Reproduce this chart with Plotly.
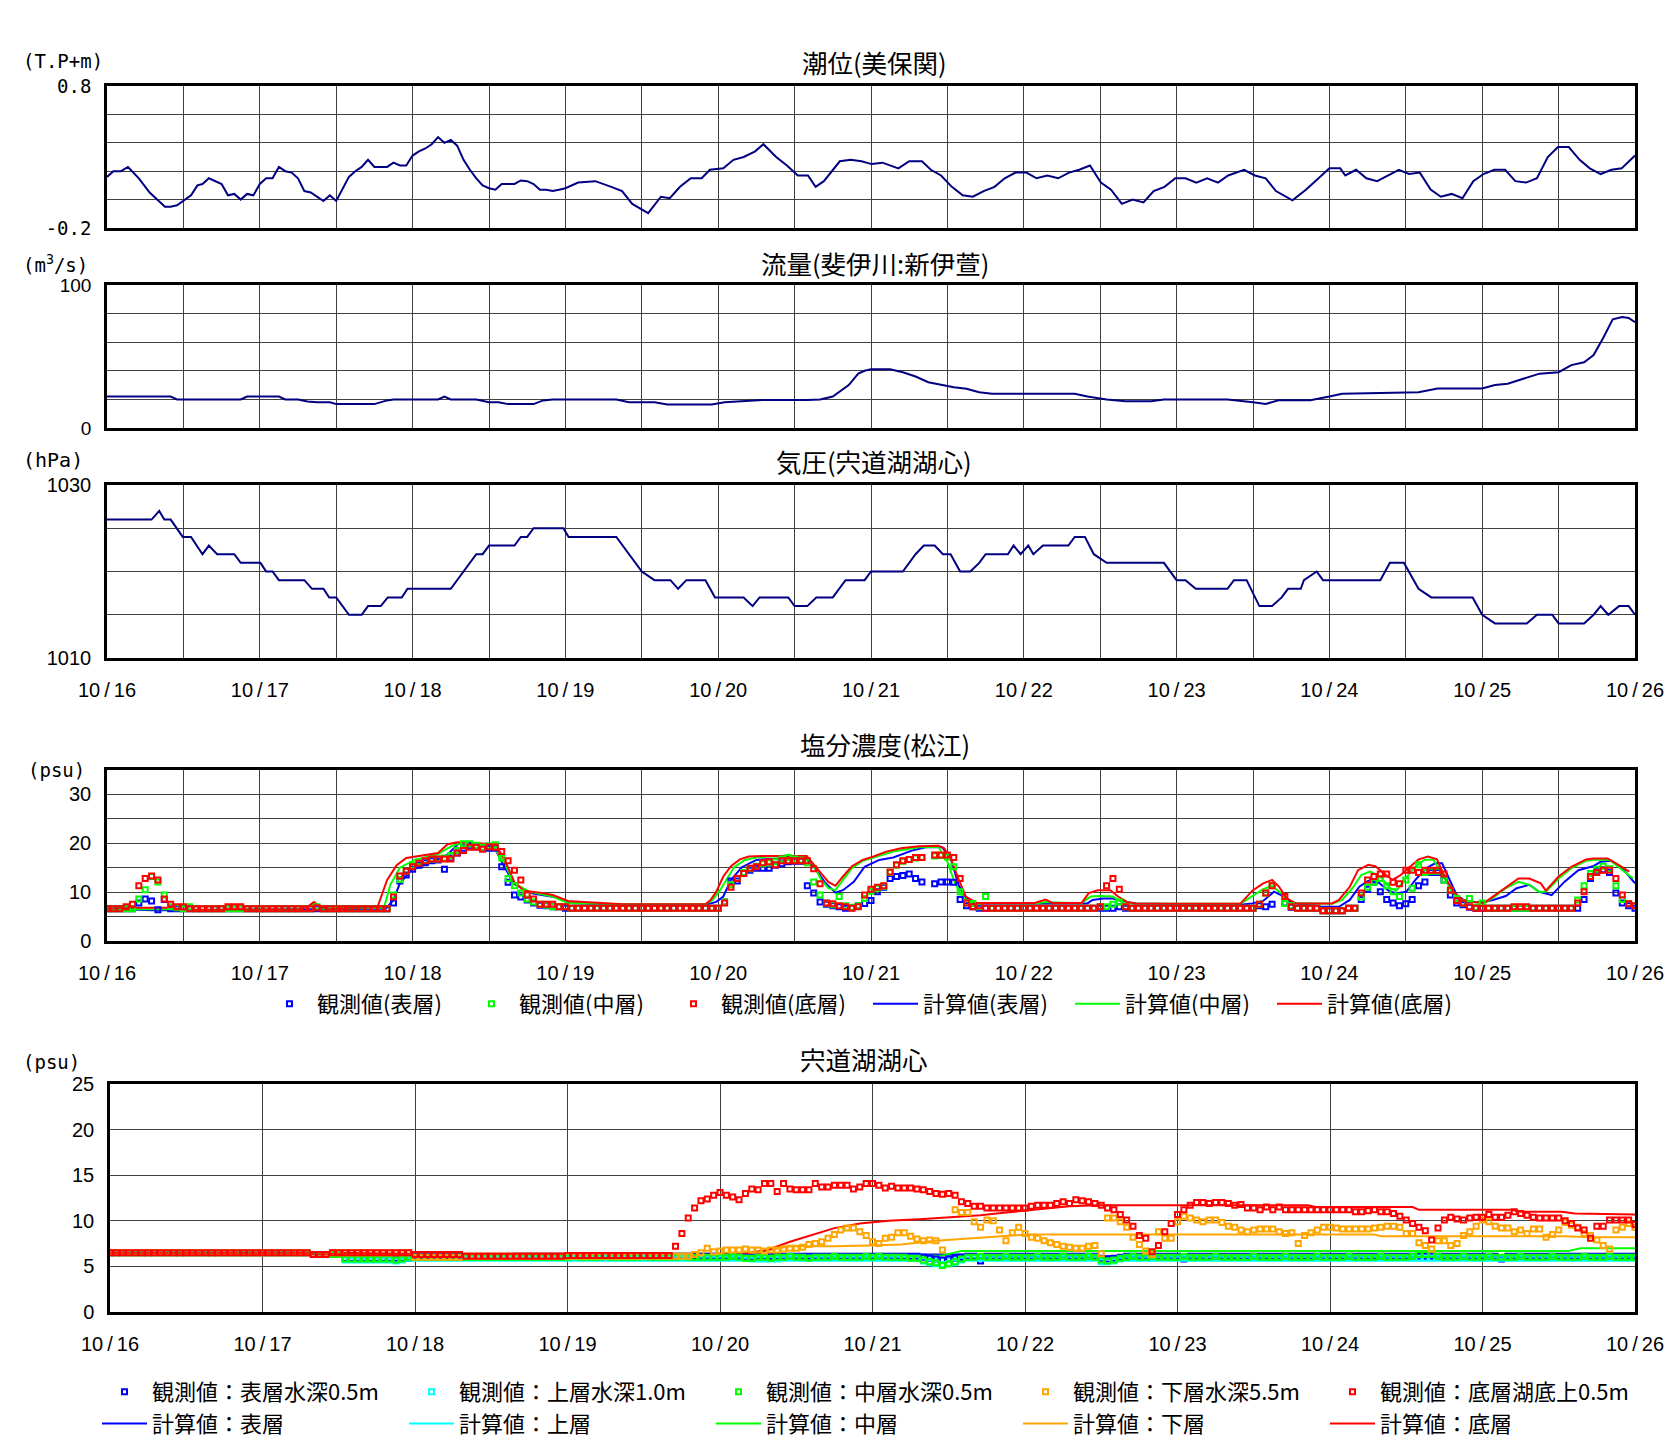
import plotly.graph_objects as go
import pandas as pd

W, H = 1668, 1439
START = pd.Timestamp("2010-10-16 00:00")

JP = "Noto Sans CJK JP"
MONO = "DejaVu Sans Mono"
SANS = "Liberation Sans"
NAVY = "#000080"
GRID = "#404040"
BLUE, GREEN, RED = "#0000FF", "#00FF00", "#FF0000"
CYAN, ORANGE = "#00FFFF", "#FFA500"

DAY_LABELS = ["10/16", "10/17", "10/18", "10/19", "10/20", "10/21",
              "10/22", "10/23", "10/24", "10/25", "10/26"]

# ── 潮位(美保関)  hours from 10/16 00:00 / T.P+m ─────────────────────────────
TIDE_H = [0, 1, 2.2, 3.3, 5, 6.7, 9.1, 10, 11, 13.2, 14.2, 15, 16, 18, 19, 20, 21, 22, 23,
          24, 25, 26, 27, 28, 29, 30, 31, 32, 34, 35, 36, 38, 39, 40, 41, 42, 44, 45, 46, 47,
          48, 49, 50, 51, 52, 53, 54, 55, 56, 57, 58, 59, 60, 61, 62, 64, 65, 66, 67, 68, 69, 70, 71,
          72, 74, 76.7, 79.2, 80.9, 82.5, 85, 87, 88.4, 90, 91.7, 93.4, 94.7,
          96.8, 98.4, 100, 101.8, 103.1, 105.1, 106.8, 108.5, 110.1, 111.3, 112.6, 115.1, 116.8, 118.5,
          120.1, 121.8, 124.3, 126, 128, 129.4, 131, 132.7, 134.4, 136, 137.7, 139.4, 141, 142.7,
          144.4, 146, 147.7, 149.4, 151.1, 152.7, 154.4, 156.1, 157.7, 159.4, 161.1, 162.8, 164.4, 166.1, 167.8,
          169.4, 171.1, 172.8, 174.5, 176.1, 178.6, 180.3, 182, 183.6, 186.2, 188.3, 190.3,
          192, 193.7, 194.5, 196.2, 197.8, 199.5, 201.2, 202.9, 204.5, 206.2, 207.9, 209.5, 211.2, 212.9, 214.6,
          216.2, 217.9, 219.6, 221.2, 222.9, 224.6, 226.3, 227.9, 229.6, 231.3, 232.9, 234.6, 236.3, 237.9, 240]
TIDE_V = [0.16, 0.20, 0.20, 0.23, 0.15, 0.05, -0.05, -0.05, -0.04, 0.03, 0.10, 0.11, 0.15, 0.11, 0.03, 0.04, 0.00, 0.04, 0.03,
          0.11, 0.15, 0.15, 0.23, 0.20, 0.19, 0.15, 0.06, 0.05, -0.01, 0.03, -0.01, 0.16, 0.20, 0.23, 0.28, 0.23, 0.23, 0.26, 0.24, 0.24,
          0.31, 0.34, 0.36, 0.39, 0.44, 0.40, 0.42, 0.38, 0.28, 0.21, 0.15, 0.10, 0.08, 0.07, 0.11, 0.11, 0.135, 0.13, 0.11, 0.07, 0.07, 0.06, 0.07,
          0.08, 0.12, 0.13, 0.09, 0.06, -0.03, -0.095, 0.02, 0.01, 0.09, 0.15, 0.15, 0.21,
          0.22, 0.28, 0.30, 0.34, 0.39, 0.30, 0.24, 0.17, 0.17, 0.09, 0.13, 0.27, 0.28, 0.27,
          0.25, 0.26, 0.22, 0.27, 0.27, 0.21, 0.17, 0.09, 0.03, 0.02, 0.06, 0.09, 0.15, 0.19,
          0.19, 0.15, 0.17, 0.15, 0.19, 0.21, 0.24, 0.12, 0.07, -0.03, 0.00, -0.02, 0.06, 0.09, 0.15,
          0.15, 0.12, 0.15, 0.12, 0.17, 0.21, 0.17, 0.15, 0.06, -0.005, 0.07, 0.15,
          0.22, 0.22, 0.17, 0.21, 0.15, 0.13, 0.17, 0.21, 0.18, 0.19, 0.07, 0.02, 0.04, 0.01, 0.13,
          0.18, 0.21, 0.21, 0.13, 0.12, 0.15, 0.30, 0.37, 0.37, 0.28, 0.22, 0.18, 0.21, 0.22, 0.31]

# ── 流量(斐伊川:新伊萱)  m3/s ──────────────────────────────────────────────────
FLOW_H = [0, 10, 11, 21, 22, 27, 28, 30, 31.5, 33, 35, 36, 42, 44, 45, 52, 53, 54, 58, 60,
          61.5, 63, 67, 68.5, 70, 80, 82, 86, 88, 95, 97, 100, 103, 110, 112, 114, 115, 116.5, 118, 119,
          120, 123, 125, 127, 129, 131, 133, 135, 137, 139, 152, 154, 157, 160, 164, 166, 176, 180, 182, 184,
          189, 192, 194, 206, 209, 216, 218, 220, 223, 225, 228, 230, 232, 233.5, 235, 236.5, 238, 239, 240]
FLOW_V = [22, 22, 20, 20, 22, 22, 20, 20, 18.6, 18, 18, 16.7, 16.7, 19.3, 20, 20, 22, 20, 20, 18,
          18, 16.7, 16.7, 19.3, 20, 20, 18, 18, 16.5, 16.5, 18, 18.5, 19.5, 19.5, 20, 22, 25, 30, 38, 40,
          41, 41, 39, 36, 32, 30, 28.5, 27.5, 25, 24, 24, 22, 20, 18.7, 18.7, 20, 20, 18, 16.8, 19.4,
          19.4, 22, 24, 25, 27.6, 27.6, 30, 31, 35, 38, 39, 44, 46, 51, 63, 76, 77.6, 77, 74]

# ── 気圧(宍道湖湖心)  hPa ─────────────────────────────────────────────────────
PRES_H = [0, 7, 8.2, 9, 10, 11, 11.9, 13.2, 15, 16, 17.3, 20, 21, 24.1, 25, 26, 27, 31, 32.2, 34,
          34.9, 36, 38, 40, 41, 43, 44.1, 46.3, 47.2, 54, 55, 56, 58, 59, 60, 64, 65, 66, 67, 71.7,
          72.5, 80, 81, 82.5, 84, 86, 88.5, 89.7, 91, 94, 95.5, 100, 101.4, 102.5, 107, 108, 110, 111.4, 114, 116,
          119, 120, 125, 127, 128.3, 130, 131.3, 132.5, 134, 135.6, 137, 138, 141.5, 142.4, 143.5, 144.7, 145.5, 147, 151, 152,
          153.6, 155, 157, 166, 168, 169.4, 171, 176, 177, 179, 181, 183, 184.5, 185.5, 187.5, 188, 190, 191, 200, 201.5,
          203.7, 206, 208, 214.5, 216, 218, 223, 224.6, 227, 228, 232, 233.5, 234.6, 235.8, 237.5, 239, 240]
PRES_V = [1026, 1026, 1027, 1026, 1026, 1025, 1024, 1024, 1022, 1023, 1022, 1022, 1021, 1021, 1020, 1020, 1019, 1019, 1018, 1018,
          1017, 1017, 1015, 1015, 1016, 1016, 1017, 1017, 1018, 1018, 1019, 1020, 1022, 1022, 1023, 1023, 1024, 1024, 1025, 1025,
          1024, 1024, 1023, 1021.5, 1020, 1019, 1019, 1018, 1019, 1019, 1017, 1017, 1016, 1017, 1017, 1016, 1016, 1017, 1017, 1019,
          1019, 1020, 1020, 1022, 1023, 1023, 1022, 1022, 1020, 1020, 1021, 1022, 1022, 1023, 1022, 1023, 1022, 1023, 1023, 1024,
          1024, 1022, 1021, 1021, 1019, 1019, 1018, 1018, 1019, 1019, 1016, 1016, 1017, 1018, 1018, 1019, 1020, 1019, 1019, 1021,
          1021, 1018, 1017, 1017, 1015, 1014, 1014, 1015, 1015, 1014, 1014, 1015, 1016, 1015, 1016, 1016, 1015]

# ── 塩分濃度(松江)  observed, hourly from 10/16 00:00 (psu) ────────────────────
M_OBS_SURF = [
    6.6, 6.6, 6.6, 6.6, 6.6, 7.8, 8.6, 8.2, 6.4, 8.5, 6.6, 6.6, 6.6, 6.6, 6.6, 6.6, 6.6, 6.6, 6.6, 6.6, 6.6, 6.6, 6.6, 6.6,
    6.6, 6.6, 6.6, 6.6, 6.6, 6.6, 6.6, 6.6, 6.6, 6.6, 6.6, 6.6, 6.6, 6.6, 6.6, 6.6, 6.6, 6.6, 6.6, 6.6, 6.6, 7.8, 12.3, 13.5,
    14.7, 15.5, 16.0, 16.4, 16.6, 14.7, 17.0, 18.0, 19.0, 19.5, 19.3, 19.0, 19.0, 19.0, 15.2, 12.0, 9.4, 9.0, 8.4, 7.8, 7.3, 7.2, 7.0, 7.0,
    6.7, 6.7, 6.7, 6.7, 6.7, 6.7, 6.7, 6.7, 6.7, 6.7, 6.7, 6.7, 6.7, 6.7, 6.7, 6.7, 6.7, 6.7, 6.7, 6.7, 6.7, 6.7, 6.7, 6.7,
    6.7, 8.0, 12.3, 12.3, 13.8, 14.5, 14.9, 14.9, 14.9, 15.5, 15.8, 16.2, 16.3, 16.3, 11.3, 9.8, 8.0, 7.5, 7.2, 7.0, 6.7, 6.8, 7.2, 7.7,
    8.3, 10.1, 11.0, 12.8, 13.2, 13.4, 13.7, 12.8, 12.1, None, 11.7, 12.1, 12.1, 12.0, 8.5, 7.2, 7.0, 6.7, 6.7, 6.7, 6.7, 6.7, 6.7, 6.7,
    6.7, 6.7, 6.7, 6.7, 6.7, 6.7, 6.7, 6.7, 6.7, 6.7, 6.7, 6.7, 6.7, 6.7, 6.7, 7.0, 6.7, 6.7, 6.7, 6.7, 6.7, 6.7, 6.7, 6.7,
    6.7, 6.7, 6.7, 6.7, 6.7, 6.7, 6.7, 6.7, 6.7, 6.7, 6.7, 6.7, 6.7, 7.2, 7.0, 7.5, None, 7.8, 6.9, 6.7, 6.7, 6.7, 6.7, 6.2,
    6.2, 6.2, 6.2, 6.7, 6.7, 8.5, 10.6, 12.1, 10.1, 8.5, 7.8, 7.2, 7.6, 8.5, 11.3, 12.1, 14.0, 14.0, 12.5, 9.4, 7.8, 7.4, 6.9, 6.7,
    6.7, 6.7, 6.7, 6.7, 6.7, 6.7, 6.7, 6.7, 6.7, 6.7, 6.7, 6.7, 6.7, 6.7, 6.7, 6.7, 8.5, 12.8, 14.5, 14.6, 14.0, 9.8, 7.8, 7.2, 6.7]
M_OBS_MID = [
    6.6, 6.6, 6.6, 6.6, 6.6, 8.6, 10.5, 13.2, 12.1, 9.4, 7.0, 6.8, 6.6, 7.0, 6.6, 6.6, 6.6, 6.6, 6.6, 6.6, 6.6, 6.6, 6.6, 6.6,
    6.6, 6.6, 6.6, 6.6, 6.6, 6.6, 6.6, 6.6, 6.6, 7.0, 6.6, 6.6, 6.6, 6.6, 6.6, 6.6, 6.6, 6.6, 6.6, 6.6, 6.6, 9.4, 12.6, 14.3,
    15.5, 16.2, 16.5, 16.8, 16.8, 17.0, 17.5, 18.5, 19.9, 19.9, 19.6, 19.2, 19.5, 19.7, 17.0, 12.8, 11.3, 9.8, 8.6, 8.0, 7.5, 7.3, 7.0, 7.0,
    7.0, 6.7, 6.7, 6.7, 6.7, 6.7, 6.7, 6.7, 6.7, 6.7, 6.7, 6.7, 6.7, 6.7, 6.7, 6.7, 6.7, 6.7, 6.7, 6.7, 6.7, 6.7, 6.7, 6.7,
    6.7, 8.0, 11.5, 12.8, 14.0, 14.8, 15.3, 15.8, 16.0, 16.2, 16.8, 17.1, 16.8, 16.6, 16.0, 12.1, 9.4, 7.8, 7.4, 9.1, 7.2, 6.9, 7.2, 8.7,
    10.2, 10.8, 11.2, 14.0, 15.5, 16.3, 16.7, 17.0, 17.1, None, 17.4, 17.5, 17.2, 15.2, 10.1, 7.8, 7.7, 7.0, 9.1, 6.7, 6.7, 6.7, 6.7, 6.7,
    6.7, 6.7, 6.7, 6.7, 6.7, 6.7, 6.7, 6.7, 6.7, 6.7, 6.7, 6.7, 7.0, 7.0, 7.5, 8.0, 7.0, 6.7, 6.7, 6.7, 6.7, 6.7, 6.7, 6.7,
    6.7, 6.7, 6.7, 6.7, 6.7, 6.7, 6.7, 6.7, 6.7, 6.7, 6.7, 6.7, 6.7, 7.5, 9.8, 11.3, None, 7.7, 7.2, 6.7, 6.7, 6.7, 6.7, 6.2,
    6.2, 6.2, 6.2, 6.7, 6.7, 9.0, 11.0, 12.0, 12.8, 11.3, 10.1, 9.1, 12.5, 10.8, 15.6, 14.0, 14.3, 14.3, 12.5, 10.4, 8.7, 7.8, 8.7, 6.9,
    7.8, 6.7, 6.7, 6.7, 6.7, 6.7, 6.7, 6.7, 6.7, 6.7, 6.7, 6.7, 6.7, 6.7, 6.7, 8.4, 11.3, 13.8, 14.7, 15.3, 14.8, 11.3, 8.5, 7.7, 7.2]
M_OBS_BOT = [
    6.6, 6.6, 6.6, 7.0, 7.5, 11.3, 12.8, 13.3, 12.5, 8.6, 7.5, 7.0, 7.0, 6.6, 6.6, 6.6, 6.6, 6.6, 6.6, 7.0, 7.0, 7.0, 6.6, 6.6,
    6.6, 6.6, 6.6, 6.6, 6.6, 6.6, 6.6, 6.6, 6.6, 6.8, 6.6, 6.6, 6.6, 6.6, 6.6, 6.6, 6.6, 6.6, 6.6, 6.6, 6.6, 9.0, 13.3, 14.3,
    15.2, 15.9, 16.4, 16.8, 16.8, 16.8, 16.8, 18.0, 18.5, 19.2, 19.2, 18.8, 19.3, 19.2, 18.3, 16.4, 14.5, 12.5, 9.4, 8.6, 7.5, 7.5, 7.5, 7.0,
    7.0, 6.7, 6.7, 6.7, 6.7, 6.7, 6.7, 6.7, 6.7, 6.7, 6.7, 6.7, 6.7, 6.7, 6.7, 6.7, 6.7, 6.7, 6.7, 6.7, 6.7, 6.7, 6.7, 6.7,
    6.7, 7.8, 11.0, 12.8, 13.8, 14.9, 15.2, 16.0, 16.2, 15.6, 16.4, 16.4, 16.4, 16.4, 16.4, 14.8, 11.7, 7.8, 7.6, 7.2, 7.0, 6.7, 7.0, 9.4,
    10.6, 11.0, 11.3, 14.1, 15.6, 16.4, 16.7, 17.1, 17.1, None, 17.6, 17.6, 17.6, 17.1, 12.8, 7.8, 7.0, 7.2, 6.7, 6.7, 6.7, 6.7, 6.7, 6.7,
    6.7, 6.7, 6.7, 6.7, 6.7, 6.7, 6.7, 6.7, 6.7, 6.7, 6.7, 6.7, 7.0, 11.3, 12.8, 10.6, 7.0, 6.7, 6.7, 6.7, 6.7, 6.7, 6.7, 6.7,
    6.7, 6.7, 6.7, 6.7, 6.7, 6.7, 6.7, 6.7, 6.7, 6.7, 6.7, 6.7, 6.7, 7.5, 9.8, 11.3, None, 9.1, 7.0, 6.7, 6.7, 6.7, 6.7, 6.2,
    6.2, 6.2, 6.2, 6.7, 6.7, 9.8, 12.5, 13.2, 13.7, 13.7, 12.0, 11.7, 14.5, 14.5, 14.0, 14.5, 14.5, 14.5, 13.7, 10.4, 8.3, 7.8, 7.0, 6.7,
    6.7, 6.7, 6.7, 6.7, 6.7, 7.0, 7.0, 7.0, 6.7, 6.7, 6.7, 6.7, 6.7, 6.7, 6.7, 7.8, 10.1, 13.2, 14.0, 14.5, 14.5, 12.8, 9.4, 7.6, 7.2]

# ── 塩分濃度(松江)  computed (knot hours / psu) ────────────────────────────────
M_CAL_SURF_H = [0, 7, 12, 30, 43.8, 45, 46, 47.8, 50.6, 53.4, 55.3, 60.7, 62.4, 64, 66.9, 70.7, 73, 81, 94, 95.7,
                96.8, 98, 99.7, 102, 104.2, 109.6, 111, 112.7, 114.4, 115.6, 117.3, 119, 121.3, 123.5, 126.4, 128.6, 131.2, 132.6, 133.8, 135,
                136.6, 154, 154.8, 156.5, 158, 159.9, 161.6, 178, 179.9, 181.6, 183.3, 184.7, 186.1, 188.4, 190.7, 193.5, 195.2, 196.7, 198.1, 199.8,
                201.5, 202.6, 204.1, 205.5, 207.2, 208.6, 209.7, 210.9, 212, 213.5, 216.3, 217.7, 219.7, 221.4, 223.4, 224.9, 226.9, 228.9, 231.1, 233.4,
                234.6, 236.3, 238, 240]
M_CAL_SURF_V = [6.6, 6.3, 6.3, 6.5, 6.6, 8.4, 11.8, 14.5, 15.9, 17.6, 20.0, 19.5, 15.2, 11.6, 9.7, 8.9, 7.8, 7.4, 7.4, 8.0,
                9.1, 12.5, 15.1, 16.6, 16.8, 17.1, 15.2, 12.1, 9.9, 10.4, 12.1, 15.2, 16.6, 17.1, 18.5, 19.2, 19.2, 16.6, 11.3, 8.7,
                7.7, 7.7, 8.4, 8.7, 8.7, 8.0, 7.7, 7.4, 7.7, 8.2, 10.1, 9.2, 7.8, 7.4, 7.0, 7.0, 8.4, 11.1, 12.3, 11.9,
                10.1, 9.8, 10.1, 12.5, 14.9, 15.9, 15.9, 12.5, 9.4, 8.0, 8.0, 8.4, 9.2, 10.8, 11.5, 10.1, 9.4, 12.1, 14.5, 15.3,
                16.2, 16.4, 14.9, 11.8]
M_CAL_MID_H = [0, 10, 12, 30, 32.5, 34, 43.5, 44.5, 46, 48.3, 52, 54.2, 55.6, 60.5, 62.4, 64, 66.3, 68, 70, 72.4,
               81, 94, 95.1, 96.3, 97.4, 98.5, 100.2, 102, 104.2, 109.9, 110.8, 112.2, 113.3, 114.4, 115.6, 117, 118.7, 121, 123.5, 127.5,
               130.6, 132, 133.2, 134.6, 136, 145.7, 147.4, 153, 154.5, 155.9, 158, 159.3, 161, 178, 179.9, 181.6, 183, 184.4, 185.5, 192.4,
               194, 195.8, 197, 198.4, 200, 201.5, 202.6, 203.8, 205.2, 206.9, 208.3, 209.7, 211.2, 212.9, 216.3, 218, 219.7, 221.7, 223.4, 224.9,
               226, 228, 230, 232.3, 234, 236, 238, 239.7]
M_CAL_MID_V = [6.5, 6.5, 6.3, 6.5, 7.5, 6.6, 6.8, 11.5, 15.0, 16.6, 17.8, 19.5, 20.0, 19.7, 15.9, 11.8, 10.1, 9.6, 9.1, 7.8,
               7.5, 7.5, 8.4, 10.4, 12.8, 15.1, 16.6, 17.1, 17.3, 17.3, 15.9, 12.5, 10.8, 10.4, 12.5, 14.9, 16.4, 17.3, 18.3, 19.2,
               19.3, 16.2, 11.8, 8.7, 7.8, 7.7, 8.0, 7.7, 9.1, 9.2, 9.1, 8.0, 7.7, 7.6, 9.1, 10.6, 11.3, 9.8, 7.8, 7.6,
               8.4, 11.1, 13.5, 14.2, 13.2, 10.8, 10.4, 12.5, 14.9, 16.6, 16.7, 13.8, 10.1, 8.3, 7.7, 9.1, 10.8, 12.1, 11.5, 10.1,
               10.1, 12.8, 14.9, 16.4, 16.7, 16.6, 14.5, 12.8]
M_CAL_BOT_H = [0, 3, 10, 12, 30, 31.5, 32.5, 33.5, 35, 42.5, 44, 45.5, 47, 50, 52, 53.5, 55, 61, 62.5, 64,
               65.5, 68, 70, 72.4, 75, 81, 94, 94.8, 95.7, 96.8, 98, 99.4, 100.8, 103, 109.9, 111, 112.2, 113.3, 114.4, 115.6,
               117, 118.7, 120.4, 122.4, 124.7, 127.5, 130.6, 131.5, 132.6, 133.8, 134.9, 136.6, 145.7, 147.4, 148.5, 153.1, 154.2, 155.6, 157.6, 158.8,
               160.2, 161.6, 178, 179.9, 181.6, 183, 184.1, 185.3, 186.7, 192.4, 193.5, 195.2, 196.5, 198.1, 199.2, 200.9, 201.9, 203.2, 204.6, 206,
               207.5, 208.9, 210, 211.5, 212.9, 214.6, 216.3, 218, 219.7, 221.7, 223.4, 225.2, 226, 228, 230, 232.3, 233.4, 235.7, 237.4, 239.1]
M_CAL_BOT_V = [6.6, 6.8, 6.8, 6.4, 6.5, 7.0, 8.0, 7.0, 6.5, 7.0, 12.5, 15.5, 17.0, 17.6, 18.0, 19.8, 20.2, 19.8, 16.5, 12.0,
               10.3, 9.9, 9.4, 8.2, 8.0, 7.5, 7.5, 8.4, 10.1, 13.2, 15.3, 16.7, 17.3, 17.4, 17.4, 15.6, 13.8, 12.1, 11.3, 13.2,
               15.3, 16.6, 17.3, 18.3, 19.0, 19.4, 19.5, 19.0, 16.6, 12.5, 9.1, 7.8, 7.8, 8.5, 7.8, 7.8, 9.8, 10.4, 10.4, 9.1,
               8.0, 7.7, 7.6, 10.3, 11.8, 12.5, 11.1, 8.7, 7.7, 7.7, 8.4, 11.1, 14.5, 15.6, 15.3, 13.5, 12.5, 13.5, 15.2, 16.7,
               17.3, 16.7, 13.5, 10.1, 8.4, 8.0, 7.8, 9.4, 11.1, 12.8, 12.8, 11.8, 10.3, 13.2, 15.2, 16.7, 16.9, 16.9, 15.6, 14.2]

# ── 宍道湖湖心  observed, hourly from 10/16 00:00 (psu) ─────────────────────────
S_OBS_05 = [
    6.5, 6.5, 6.5, 6.5, 6.5, 6.5, 6.5, 6.5, 6.5, 6.5, 6.5, 6.5, 6.5, 6.5, 6.5, 6.5, 6.5, 6.5, 6.5, 6.5, 6.5, 6.5, 6.5, 6.5,
    6.5, 6.5, 6.5, 6.5, 6.5, 6.5, 6.5, 6.5, 6.3, 6.3, 6.3, 6.3, 6.3, 5.9, 5.9, 5.9, 5.9, 5.9, 5.9, 5.9, 5.9, 5.9, 5.9, 5.9,
    6.1, 6.1, 6.1, 6.1, 6.1, 6.1, 6.1, 6.1, 6.0, 6.0, 6.0, 6.0, 6.0, 6.0, 6.0, 6.0, 6.1, 6.1, 6.1, 6.1, 6.1, 6.1, 6.1, 6.1,
    6.1, 6.1, 6.1, 6.1, 6.1, 6.1, 6.1, 6.1, 6.1, 6.1, 6.1, 6.1, 6.1, 6.1, 6.1, 6.1, 6.1, 6.1, 6.1, 6.1, 6.1, 6.1, 6.1, 6.1,
    6.1, 6.1, 6.1, 6.1, 6.0, 6.0, 6.1, 6.1, 6.1, 6.1, 6.1, 6.1, 6.1, 6.1, 6.1, 6.1, 6.1, 6.1, 6.1, 6.1, 6.1, 6.1, 6.1, 6.1,
    6.1, 6.1, 6.1, 6.1, 6.1, 6.1, 6.1, 6.1, 6.0, 5.9, 5.8, 5.7, 5.8, 5.9, 6.0, 6.1, 6.1, 5.6, 6.1, 6.1, 6.1, 6.1, 6.1, 6.1,
    6.1, 6.1, 6.1, 6.1, 6.1, 6.1, 6.1, 6.1, 6.1, 6.1, 6.1, 6.1, 5.9, 5.8, 5.9, 6.0, 6.1, 6.1, 6.1, 6.1, 6.1, 6.1, 6.1, 6.1,
    6.1, 5.8, 6.1, 6.1, 6.1, 6.1, 6.1, 6.1, 6.1, 6.1, 6.1, 6.1, 6.1, 6.1, 6.1, 6.1, 6.1, 6.1, 6.1, 6.1, 6.1, 6.1, 6.1, 6.1,
    6.1, 6.1, 6.1, 6.1, 6.1, 6.1, 6.1, 6.1, 6.1, 6.1, 6.1, 6.1, 6.1, 6.1, 6.1, 6.1, 6.1, 6.1, 6.1, 6.1, 6.1, 6.1, 6.1, 6.1,
    6.1, 6.1, 6.1, 5.8, 6.1, 6.1, 6.1, 6.1, 6.1, 6.1, 6.1, 6.1, 6.1, 6.1, 6.1, 6.1, 6.1, 6.1, 6.1, 6.1, 6.1, 6.1, 6.1, 6.1, 6.1]
S_OBS_10 = [
    6.5, 6.5, 6.5, 6.5, 6.5, 6.5, 6.5, 6.5, 6.5, 6.5, 6.5, 6.5, 6.5, 6.5, 6.5, 6.5, 6.5, 6.5, 6.5, 6.5, 6.5, 6.5, 6.5, 6.5,
    6.5, 6.5, 6.5, 6.5, 6.5, 6.5, 6.5, 6.5, 6.3, 6.3, 6.3, 6.3, 6.3, 5.7, 5.7, 5.7, 5.7, 5.7, 5.7, 5.7, 5.7, 5.6, 5.7, 5.9,
    5.9, 5.9, 5.9, 5.9, 5.9, 5.9, 5.9, 5.9, 5.9, 5.9, 5.9, 5.9, 5.9, 5.9, 5.9, 5.9, 5.9, 5.9, 5.9, 5.9, 5.9, 5.9, 5.9, 5.9,
    5.9, 5.9, 5.9, 5.9, 5.9, 5.9, 5.9, 5.9, 5.9, 5.9, 5.9, 5.9, 5.9, 5.9, 5.9, 5.9, 5.9, 5.9, 5.9, 5.9, 5.9, 5.9, 5.9, 5.9,
    5.9, 5.9, 5.9, 5.9, 5.9, 5.8, 5.8, 5.8, 5.8, 5.8, 5.9, 5.9, 5.9, 5.9, 5.9, 5.9, 5.9, 5.9, 5.9, 5.9, 5.9, 5.9, 5.9, 5.9,
    5.9, 5.9, 5.9, 5.9, 5.9, 5.9, 5.9, 5.9, 5.6, 5.4, 5.3, 5.2, 5.3, 5.4, 5.7, 5.9, 5.9, 5.9, 5.9, 5.9, 5.9, 5.9, 5.9, 5.9,
    5.9, 5.9, 5.9, 5.9, 5.9, 5.9, 5.9, 5.9, 5.9, 5.9, 5.9, 5.9, 5.5, 5.5, 5.6, 5.8, 5.9, 5.9, 5.9, 5.9, 5.9, 5.9, 5.9, 5.9,
    5.9, 5.9, 5.9, 5.9, 5.9, 5.9, 5.9, 5.9, 5.9, 5.9, 5.9, 5.9, 5.9, 5.9, 5.9, 5.9, 5.9, 5.9, 5.9, 5.9, 5.9, 5.9, 5.9, 5.9,
    5.9, 5.9, 5.9, 5.9, 5.9, 5.9, 5.9, 5.9, 5.9, 5.9, 5.9, 5.9, 5.9, 5.9, 5.9, 5.9, 5.9, 5.9, 5.9, 5.9, 5.9, 5.9, 5.9, 5.9,
    5.9, 5.9, 5.9, 5.9, 5.9, 5.9, 5.9, 5.9, 5.9, 5.9, 5.9, 5.9, 5.9, 5.9, 5.9, 5.9, 5.9, 5.9, 5.9, 5.9, 5.9, 5.9, 5.9, 5.9, 5.9]
S_OBS_MID = [
    6.5, 6.5, 6.5, 6.5, 6.5, 6.5, 6.5, 6.5, 6.5, 6.5, 6.5, 6.5, 6.5, 6.5, 6.5, 6.5, 6.5, 6.5, 6.5, 6.5, 6.5, 6.5, 6.5, 6.5,
    6.5, 6.5, 6.5, 6.5, 6.5, 6.5, 6.5, 6.5, 6.3, 6.3, 6.3, 6.3, 6.3, 5.8, 5.8, 5.8, 5.8, 5.8, 5.8, 5.8, 5.8, 5.7, 5.8, 6.0,
    6.0, 6.0, 6.0, 6.0, 6.0, 6.0, 6.0, 6.0, 6.0, 6.0, 6.0, 6.0, 6.0, 6.0, 6.0, 6.0, 6.0, 6.0, 6.0, 6.0, 6.0, 6.0, 6.0, 6.0,
    6.0, 6.1, 6.0, 6.0, 6.0, 6.0, 6.1, 6.0, 6.0, 6.0, 6.0, 6.0, 6.1, 6.0, 6.0, 6.0, 6.0, 6.0, 6.1, 6.0, 6.0, 6.0, 6.0, 6.0,
    6.0, 6.0, 6.1, 6.0, 5.9, 5.9, 6.0, 6.0, 5.9, 6.0, 6.0, 6.1, 6.0, 6.0, 5.9, 6.0, 6.0, 6.0, 6.1, 6.0, 6.0, 6.0, 6.0, 6.1,
    6.0, 6.1, 6.0, 6.0, 6.0, 6.0, 5.9, 5.9, 5.7, 5.5, 5.4, 5.1, 5.3, 5.5, 5.8, 6.0, 6.0, 6.1, 6.0, 6.0, 6.0, 6.1, 6.0, 6.0,
    6.0, 6.0, 6.1, 6.0, 6.0, 6.0, 6.1, 6.0, 6.0, 6.0, 6.1, 6.0, 5.7, 5.6, 5.7, 5.9, 6.0, 6.1, 6.0, 6.0, 6.1, 6.0, 6.0, 6.0,
    6.0, 6.1, 6.0, 6.0, 6.0, 6.0, 6.1, 6.0, 6.0, 6.0, 6.0, 6.0, 6.1, 6.0, 6.0, 6.0, 6.0, 6.1, 6.0, 6.0, 6.0, 6.0, 6.1, 6.0,
    6.0, 6.0, 6.0, 6.1, 6.0, 6.0, 6.0, 6.0, 6.1, 6.0, 6.0, 6.0, 6.0, 6.1, 6.3, 6.3, 6.3, 6.1, 6.0, 6.0, 6.0, 6.1, 6.0, 6.0,
    6.0, 6.1, 6.0, 6.0, 6.0, 6.0, 6.1, 6.0, 6.0, 6.0, 6.0, 6.1, 6.0, 6.0, 6.0, 6.0, 6.1, 6.0, 6.0, 6.0, 6.1, 6.0, 6.0, 6.0, 6.0]
S_OBS_55 = [
    6.5, 6.5, 6.5, 6.5, 6.5, 6.5, 6.5, 6.5, 6.5, 6.5, 6.5, 6.5, 6.5, 6.5, 6.5, 6.5, 6.5, 6.5, 6.5, 6.5, 6.5, 6.5, 6.5, 6.5,
    6.5, 6.5, 6.5, 6.5, 6.5, 6.5, 6.5, 6.5, 6.3, 6.3, 6.3, 6.5, 6.5, 6.5, 6.5, 6.5, 6.5, 6.5, 6.5, 6.5, 6.5, 6.5, 6.5, 6.5,
    6.0, 6.0, 6.0, 6.0, 6.0, 6.0, 6.0, 6.0, 6.1, 6.1, 6.1, 6.1, 6.1, 6.1, 6.1, 6.1, 6.1, 6.1, 6.1, 6.1, 6.1, 6.1, 6.1, 6.1,
    6.1, 6.1, 6.1, 6.1, 6.1, 6.1, 6.1, 6.1, 6.1, 6.1, 6.1, 6.1, 6.1, 6.1, 6.1, 6.1, 6.1, 6.1, 6.1, 6.1, 6.3, 6.5, 7.0, 6.6,
    6.7, 6.8, 6.8, 6.8, 6.9, 6.8, 6.8, 6.7, 6.8, 6.8, 6.9, 7.0, 7.0, 7.1, 7.4, 7.5, 7.7, 8.1, 8.5, 9.0, 9.2, 9.2, 8.8, 8.4,
    7.7, 7.5, 8.1, 8.2, 8.7, 8.7, 8.3, 8.0, 7.8, 7.9, 7.8, 6.8, None, 11.2, 10.9, 10.9, 9.9, 9.3, 10.1, 10.0, 9.0, 7.8, 8.7, 9.3,
    8.6, 8.2, 8.1, 7.8, 7.6, 7.4, 7.2, 7.1, 7.0, 7.0, 7.2, 7.3, 6.4, 10.3, 10.3, 9.9, 9.3, 8.2, 7.4, 6.7, 6.3, 8.8, 8.1, 8.1,
    9.9, 10.5, 10.3, 10.1, 9.9, 10.1, 10.1, 9.8, 9.4, 9.3, 9.0, 8.8, 9.0, 9.1, 9.1, 9.1, 8.8, 8.6, 8.7, 7.5, 8.4, 8.7, 9.0, 9.3,
    9.3, 9.2, 9.1, 9.1, 9.1, 9.1, 9.1, 9.2, 9.3, 9.4, 9.4, 9.3, 8.6, 8.6, 7.6, 7.3, 6.9, 7.8, 7.8, 7.3, 7.5, 8.4, 8.8, 9.4,
    10.1, 9.9, 9.4, 9.2, 9.2, 8.8, 9.0, 8.6, 9.1, 9.1, 8.2, 8.5, 9.0, 9.8, 9.5, 9.3, 8.6, 8.4, 7.9, 7.3, 6.9, 9.0, 9.3, 9.7, 9.3]
S_OBS_BOT = [
    6.5, 6.5, 6.5, 6.5, 6.5, 6.5, 6.5, 6.5, 6.5, 6.5, 6.5, 6.5, 6.5, 6.5, 6.5, 6.5, 6.5, 6.5, 6.5, 6.5, 6.5, 6.5, 6.5, 6.5,
    6.5, 6.5, 6.5, 6.5, 6.5, 6.5, 6.5, 6.5, 6.3, 6.3, 6.3, 6.5, 6.5, 6.5, 6.5, 6.5, 6.5, 6.5, 6.5, 6.5, 6.5, 6.5, 6.5, 6.5,
    6.3, 6.3, 6.3, 6.3, 6.3, 6.3, 6.3, 6.3, 6.1, 6.1, 6.1, 6.1, 6.1, 6.1, 6.1, 6.1, 6.1, 6.1, 6.1, 6.1, 6.1, 6.1, 6.1, 6.1,
    6.2, 6.2, 6.2, 6.2, 6.2, 6.2, 6.2, 6.2, 6.2, 6.2, 6.2, 6.2, 6.2, 6.2, 6.2, 6.2, 6.2, 7.2, 8.6, 10.3, 11.4, 12.2, 12.4, 12.8,
    13.1, 12.8, 12.6, 12.3, 13.0, 13.5, 13.4, 14.1, 14.1, 13.2, 14.1, 13.5, 13.4, 13.4, 13.4, 14.1, 13.7, 13.7, 13.9, 13.9, 13.9, 13.5, 13.7, 14.1,
    14.1, 13.9, 13.6, 13.8, 13.6, 13.6, 13.6, 13.5, 13.4, 13.2, 13.0, 12.9, 13.0, 12.8, 12.1, 11.9, 11.6, 11.6, 11.4, 11.4, 11.4, 11.4, 11.4, 11.4,
    11.4, 11.6, 11.7, 11.7, 11.7, 11.9, 12.1, 11.9, 12.3, 12.2, 12.1, 11.9, 11.7, 11.4, 11.2, 10.7, 10.1, 9.4, 8.4, 8.1, 6.6, 7.3, 8.8, 9.7,
    10.7, 11.2, 11.7, 12.0, 12.0, 11.9, 12.0, 12.0, 11.9, 11.7, 11.8, 11.4, 11.4, 11.2, 11.5, 11.2, 11.5, 11.2, 11.2, 11.2, 11.2, 11.2, 11.2, 11.2,
    11.2, 11.2, 11.2, 11.2, 11.0, 11.0, 11.1, 11.2, 11.0, 11.0, 10.8, 10.5, 10.1, 9.7, 9.3, 8.9, 7.9, 9.2, 10.1, 10.4, 10.2, 10.1, 10.3, 10.4,
    10.4, 10.7, 10.4, 10.4, 10.6, 11.0, 10.8, 10.6, 10.4, 10.3, 10.3, 10.3, 10.3, 10.0, 9.7, 9.2, 9.0, 8.1, 9.4, 9.4, 10.1, 10.1, 10.1, 10.1, 9.6]

# ── 宍道湖湖心  computed (knot hours / psu) ─────────────────────────────────────
S_CAL_SURF_H = [0, 34, 38, 124, 125, 137, 138, 240]
S_CAL_SURF_V = [6.5, 6.5, 6.1, 6.1, 6.3, 6.3, 6.1, 6.1]
S_CAL_UP_H = [0, 34, 38, 240]
S_CAL_UP_V = [6.5, 6.5, 5.9, 5.9]
S_CAL_MID_H = [0, 34, 38, 131, 134, 229.5, 231.5, 240]
S_CAL_MID_V = [6.5, 6.5, 6.1, 6.2, 6.7, 6.7, 7.0, 7.0]
S_CAL_LOW_H = [0, 31, 32, 34, 35, 48, 96, 103, 107, 114, 119.5, 124.5, 130, 134, 137, 142, 145, 199, 200, 229, 233, 240]
S_CAL_LOW_V = [6.5, 6.5, 6.3, 6.3, 6.5, 6.2, 6.2, 6.7, 7.2, 7.2, 7.3, 7.4, 7.8, 8.0, 8.2, 8.4, 8.5, 8.5, 8.3, 8.3, 8.2, 8.2]
S_CAL_BOT_H = [0, 31, 32, 34, 35, 48, 100, 103.5, 107, 111, 114, 118, 122.5, 128, 133, 137, 141, 145, 149, 151,
               155.5, 188.5, 190, 205, 206, 220.5, 222, 228.5, 230.5, 240]
S_CAL_BOT_V = [6.5, 6.5, 6.3, 6.3, 6.5, 6.4, 6.4, 6.8, 7.7, 8.6, 9.2, 9.7, 10.0, 10.2, 10.4, 10.6, 10.9, 11.2, 11.5, 11.6,
               11.7, 11.7, 11.5, 11.5, 11.2, 11.2, 11.0, 11.0, 10.8, 10.7]


def when(hours):
    return [START + pd.Timedelta(hours=h) for h in hours]


HOURLY = when(range(241))


def fx(p):
    return p / W


def fy(p):
    return 1 - p / H


# panel boxes in pixels: left, right, top, bottom
BOX = {
    1: (107, 1635, 86, 228),
    2: (107, 1635, 285, 428),
    3: (107, 1635, 485, 658),
    4: (107, 1635, 770, 941),
    5: (110, 1635, 1084, 1312),
}


def x_axis(n, labels, step):
    l, r, t, b = BOX[n]
    hours = list(range(0, 241, step))
    text = [DAY_LABELS[h // 24].replace("/", "\u2009/\u2009") if (labels and h % 24 == 0) else " "
            for h in hours]
    return dict(
        domain=[fx(l), fx(r)], anchor="y" if n == 1 else f"y{n}",
        range=[START, START + pd.Timedelta(hours=240)],
        tickmode="array", tickvals=when(hours), ticktext=text,
        showticklabels=labels, ticks="", ticklabelstandoff=12,
        tickfont=dict(family=SANS, size=20, color="black"),
        showgrid=True, gridcolor=GRID, gridwidth=1, zeroline=False,
        showline=True, mirror=True, linecolor="black", linewidth=2.5,
    )


def y_axis(n, rng, vals, text, font):
    l, r, t, b = BOX[n]
    return dict(
        domain=[fy(b), fy(t)], anchor="x" if n == 1 else f"x{n}",
        range=rng, tickmode="array", tickvals=vals, ticktext=text,
        ticks="", ticklabelstandoff=9, tickfont=font,
        showgrid=True, gridcolor=GRID, gridwidth=1, zeroline=False,
        showline=True, mirror=True, linecolor="black", linewidth=2.5,
    )


fig = go.Figure()


def line(n, x, y, color, name=None, legend=None, rank=None, width=2):
    fig.add_trace(go.Scatter(
        x=x, y=y, mode="lines", name=name,
        line=dict(color=color, width=width),
        xaxis="x" if n == 1 else f"x{n}", yaxis="y" if n == 1 else f"y{n}",
        showlegend=legend is not None, legend=legend or "legend",
        legendrank=rank or 1000, hoverinfo="skip",
    ))


def dots(n, y, color, name, legend, rank):
    fig.add_trace(go.Scatter(
        x=HOURLY, y=y, mode="markers", name=name,
        marker=dict(symbol="square-open", size=5, color=color, line=dict(width=2)),
        xaxis=f"x{n}", yaxis=f"y{n}", showlegend=True, legend=legend,
        legendrank=rank, hoverinfo="skip",
    ))


line(1, when(TIDE_H), TIDE_V, NAVY)
line(2, when(FLOW_H), FLOW_V, NAVY)
line(3, when(PRES_H), PRES_V, NAVY)

# 塩分濃度(松江)
line(4, when(M_CAL_SURF_H), M_CAL_SURF_V, BLUE, "計算値(表層)", "legend", 4)
line(4, when(M_CAL_MID_H), M_CAL_MID_V, GREEN, "計算値(中層)", "legend", 5)
line(4, when(M_CAL_BOT_H), M_CAL_BOT_V, RED, "計算値(底層)", "legend", 6)
dots(4, M_OBS_SURF, BLUE, "観測値(表層)", "legend", 1)
dots(4, M_OBS_MID, GREEN, "観測値(中層)", "legend", 2)
dots(4, M_OBS_BOT, RED, "観測値(底層)", "legend", 3)

# 宍道湖湖心
line(5, when(S_CAL_SURF_H), S_CAL_SURF_V, BLUE, "計算値：表層", "legend2", 6)
line(5, when(S_CAL_UP_H), S_CAL_UP_V, CYAN, "計算値：上層", "legend2", 7)
line(5, when(S_CAL_MID_H), S_CAL_MID_V, GREEN, "計算値：中層", "legend2", 8)
line(5, when(S_CAL_LOW_H), S_CAL_LOW_V, ORANGE, "計算値：下層", "legend2", 9)
line(5, when(S_CAL_BOT_H), S_CAL_BOT_V, RED, "計算値：底層", "legend2", 10)
dots(5, S_OBS_05, BLUE, "観測値：表層水深0.5m", "legend2", 1)
dots(5, S_OBS_10, CYAN, "観測値：上層水深1.0m", "legend2", 2)
dots(5, S_OBS_MID, GREEN, "観測値：中層水深0.5m", "legend2", 3)
dots(5, S_OBS_55, ORANGE, "観測値：下層水深5.5m", "legend2", 4)
dots(5, S_OBS_BOT, RED, "観測値：底層湖底上0.5m", "legend2", 5)

num = dict(family=SANS, size=20, color="black")
mono = dict(family=MONO, size=19, color="black")

layout = dict(
    width=W, height=H,
    margin=dict(l=0, r=0, t=0, b=0, autoexpand=False),
    paper_bgcolor="white", plot_bgcolor="white",
    font=dict(family=JP, color="black"),
    xaxis=x_axis(1, False, 12),
    xaxis2=x_axis(2, False, 12),
    xaxis3=x_axis(3, True, 12),
    xaxis4=x_axis(4, True, 12),
    xaxis5=x_axis(5, True, 24),
    yaxis=y_axis(1, [-0.2, 0.8], [-0.2, 0, 0.2, 0.4, 0.6, 0.8],
                 ["-0.2", " ", " ", " ", " ", "0.8"], mono),
    yaxis2=y_axis(2, [0, 100], [0, 20, 40, 60, 80, 100],
                  ["0", " ", " ", " ", " ", "100"], dict(num, size=19)),
    yaxis3=y_axis(3, [1010, 1030], [1010, 1015, 1020, 1025, 1030],
                  ["1010", " ", " ", " ", "1030"], num),
    yaxis4=y_axis(4, [0, 35], [0, 5, 10, 15, 20, 25, 30, 35],
                  ["0", " ", "10", " ", "20", " ", "30", " "], num),
    yaxis5=y_axis(5, [0, 25], [0, 5, 10, 15, 20, 25],
                  ["0", "5", "10", "15", "20", "25"], num),
    legend=dict(
        orientation="h", x=fx(262), xanchor="left", y=fy(1004), yanchor="middle",
        entrywidth=142, entrywidthmode="pixels", itemwidth=45,
        font=dict(family=JP, size=22, color="black"), bgcolor="rgba(0,0,0,0)",
    ),
    legend2=dict(
        orientation="h", x=fx(97), xanchor="left", y=fy(1408), yanchor="middle",
        entrywidth=247, entrywidthmode="pixels", itemwidth=45,
        font=dict(family=JP, size=22, color="black"), bgcolor="rgba(0,0,0,0)",
    ),
)

TITLES = [
    ("潮位(美保関)", 875, 61),
    ("流量(斐伊川:新伊萱)", 875, 262),
    ("気圧(宍道湖湖心)", 874, 460),
    ("塩分濃度(松江)", 885, 743),
    ("宍道湖湖心", 864, 1058),
]
UNITS = [
    ("(T.P+m)", 21, 61, 19),
    ("(m<sup>3</sup>/s)", 21, 264, 19),
    ("(hPa)", 21, 460, 20),
    ("(psu)", 26, 770, 19),
    ("(psu)", 21, 1062, 19),
]
ann = []
for text, x, y in TITLES:
    ann.append(dict(text=text, x=fx(x), y=fy(y), xref="paper", yref="paper",
                    xanchor="center", yanchor="middle", showarrow=False,
                    font=dict(family=JP, size=25.5, color="black")))
for text, x, y, size in UNITS:
    ann.append(dict(text=text, x=fx(x), y=fy(y), xref="paper", yref="paper",
                    xanchor="left", yanchor="middle", showarrow=False,
                    font=dict(family=MONO, size=size, color="black")))
layout["annotations"] = ann

fig.update_layout(**layout)
# drop the default page margin so the figure sits at the window's top-left corner
fig.write_html("out.html", config={"displayModeBar": False},
               post_script="document.body.style.margin = '0';")
